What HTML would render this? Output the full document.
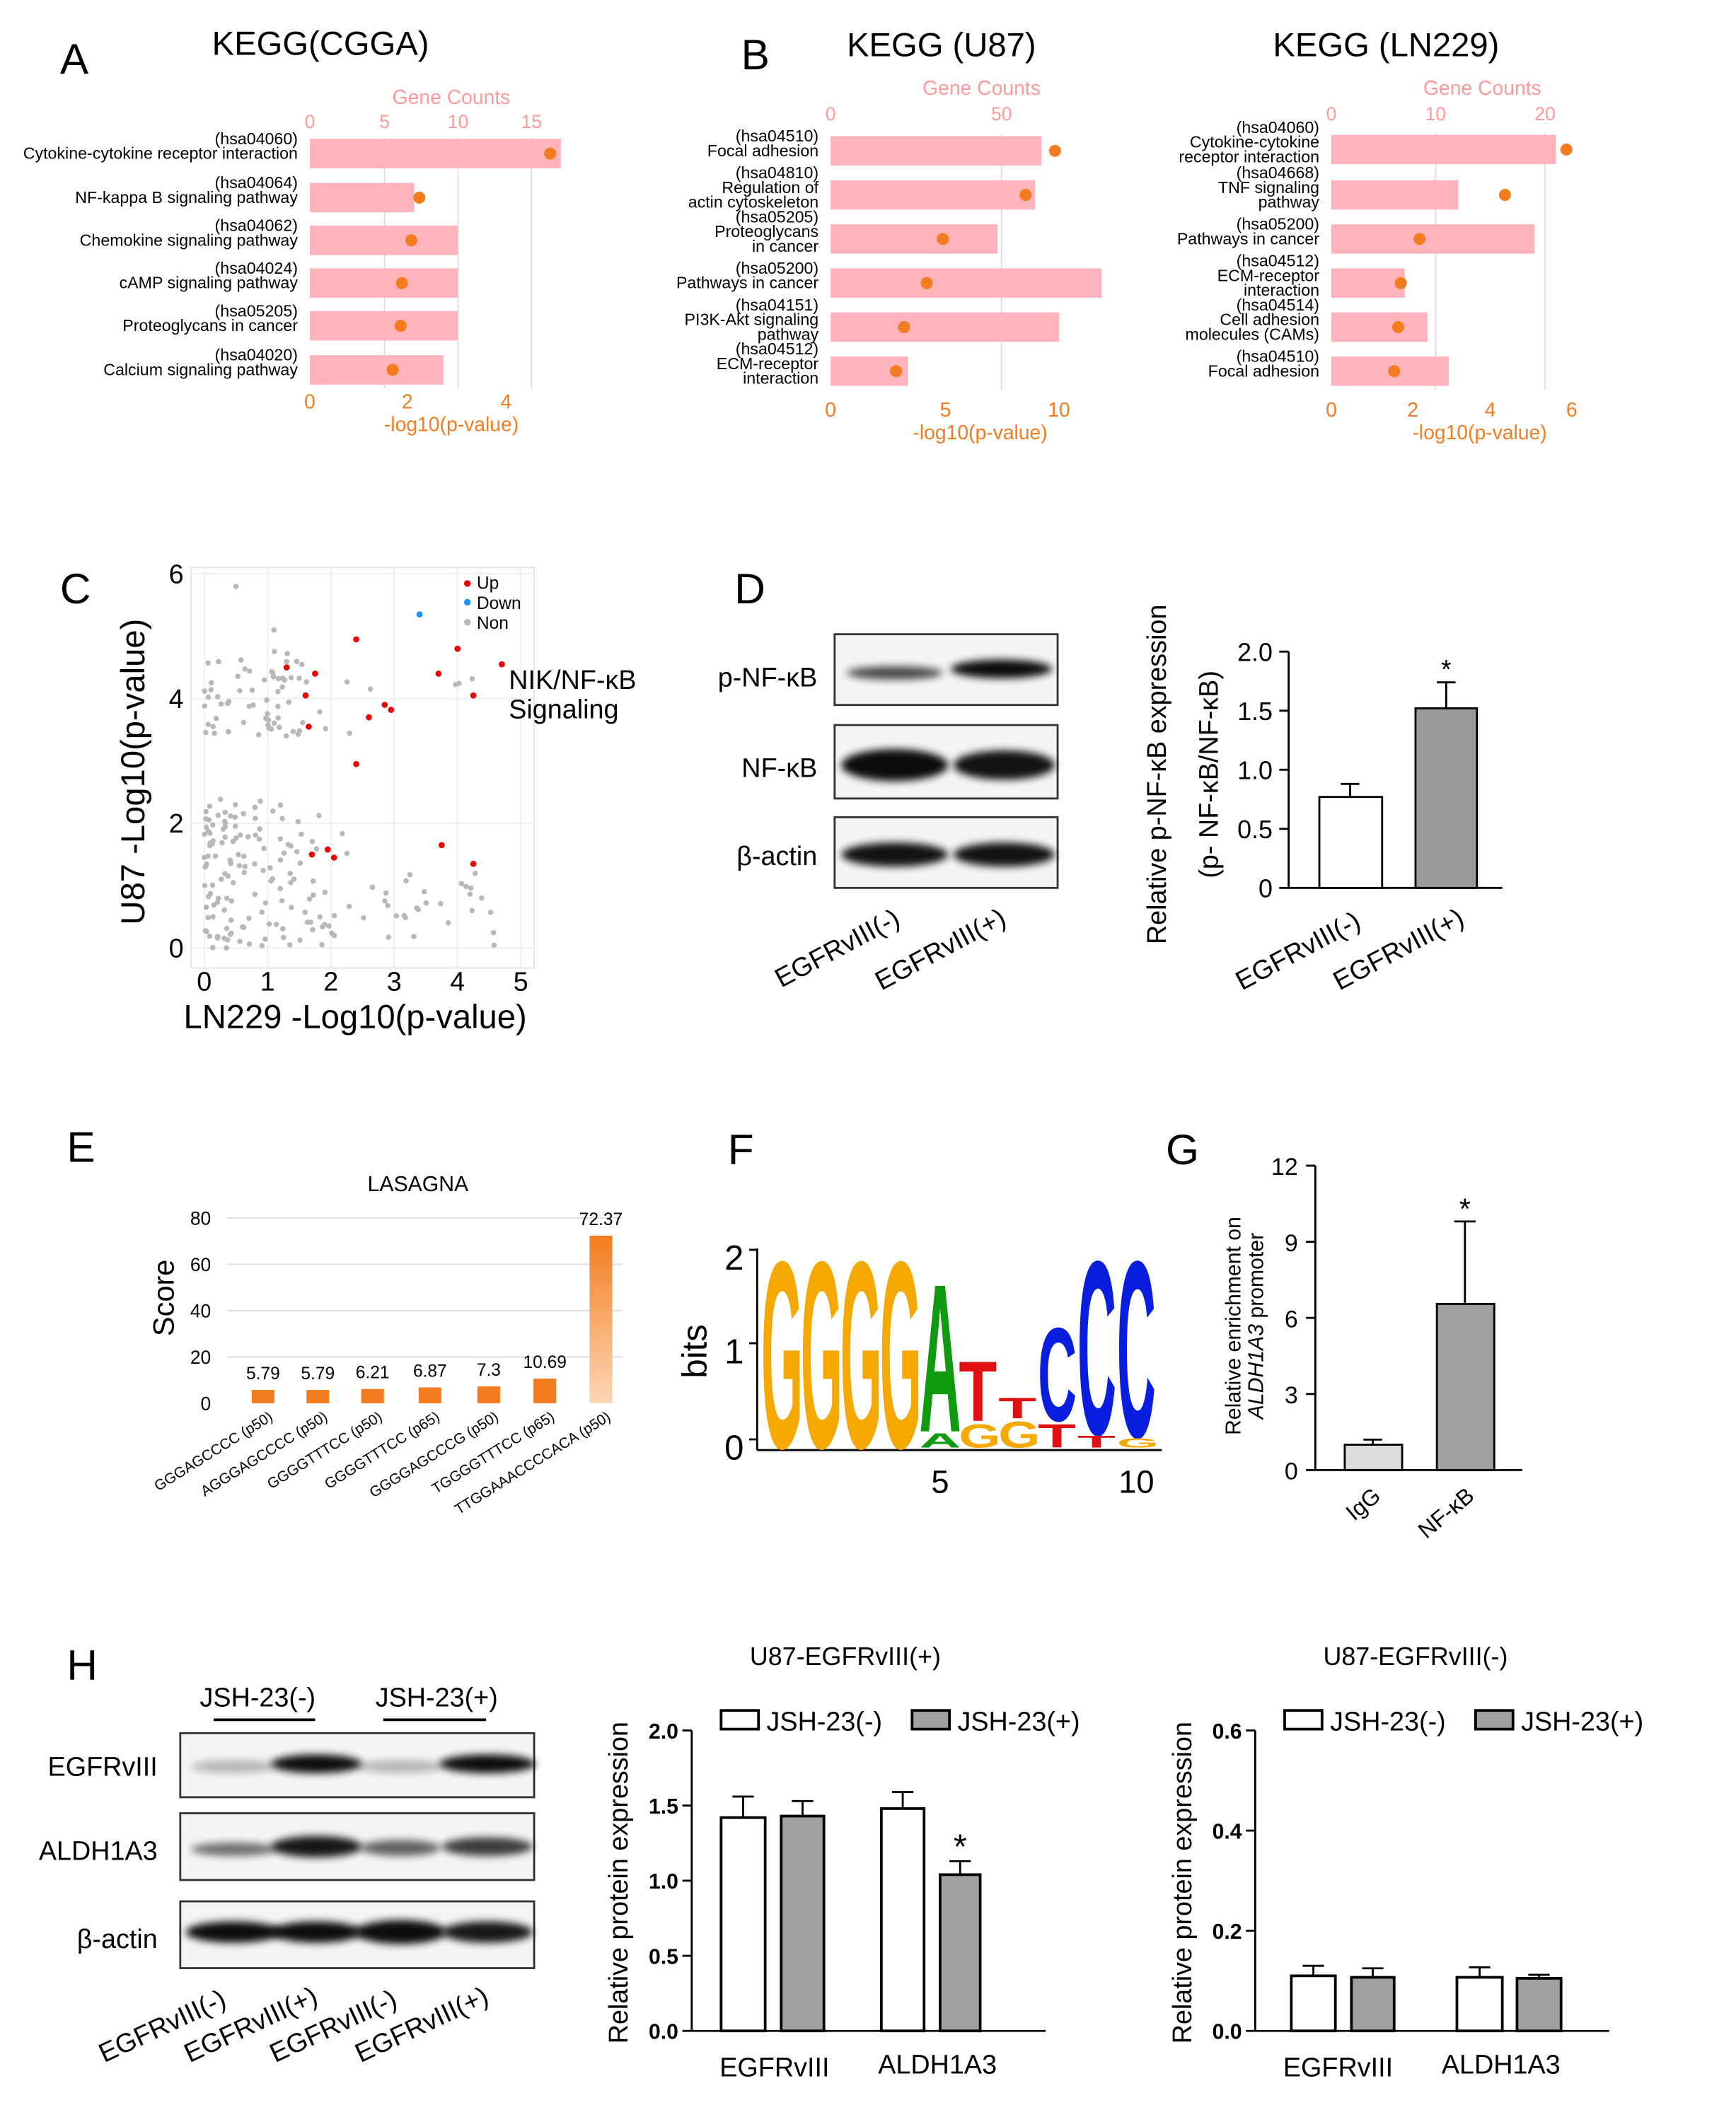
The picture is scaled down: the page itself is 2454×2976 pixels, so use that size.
<!DOCTYPE html>
<html><head><meta charset="utf-8"><style>
html,body{margin:0;padding:0;background:#fff}
svg{display:block}
text{font-family:"Liberation Sans",Arial,sans-serif}
</style></head><body>
<svg id="s" width="2454" height="2976" viewBox="0 0 1300 1576.5" preserveAspectRatio="none" xmlns="http://www.w3.org/2000/svg">
<defs>
<filter id="bl" x="-20%" y="-50%" width="140%" height="200%"><feGaussianBlur stdDeviation="3"/></filter>
<linearGradient id="og" x1="0" y1="0" x2="0" y2="1"><stop offset="0" stop-color="#f47c20"/><stop offset="1" stop-color="#fbd6b5"/></linearGradient>
</defs>
<rect width="1300" height="1576.5" fill="#fff"/>
<g id="g"></g>
</svg>
<script>
const g=document.getElementById('g');let h='';
function T(x,y,s,t,o){o=o||{};h+=`<text x="${x}" y="${y}" font-size="${s}" fill="${o.c||'#000'}" text-anchor="${o.a||'start'}" ${o.w?'font-weight="bold"':''} ${o.r!=null?`transform="rotate(${o.r} ${x} ${y})"`:''}>${t}</text>`;}
function L(x1,y1,x2,y2,c,w){h+=`<line x1="${x1}" y1="${y1}" x2="${x2}" y2="${y2}" stroke="${c||'#000'}" stroke-width="${w||1.5}"/>`;}
function R(x,y,w,hh,f,s,sw){h+=`<rect x="${x}" y="${y}" width="${w}" height="${hh}" fill="${f}" ${s?`stroke="${s}" stroke-width="${sw||1.5}"`:''}/>`;}
function C(x,y,r,f){h+=`<circle cx="${x}" cy="${y}" r="${r}" fill="${f}"/>`;}
const pink='#ffb3ba',or='#f47c20',lp='#ff9a9a';
T(45,55,32,'A');T(555,52,32,'B');T(45,452,32,'C');T(550,452,32,'D');T(50,870,32,'E');T(545,872,32,'F');T(873,872,32,'G');T(50,1258,32,'H');
function kegg(cfg){
 T(cfg.tx,cfg.ty,25,cfg.title,{a:'middle'});
 T(cfg.gcx,cfg.gcy,15,'Gene Counts',{c:lp,a:'middle'});
 cfg.top.forEach(t=>{T(t[0],cfg.topy,14,t[1],{c:lp,a:'middle'});if(t[2])L(t[0],cfg.rows[0]-12,t[0],cfg.rows[5]+14,'#ddd',1);});
 cfg.rows.forEach((y,i)=>{R(cfg.x0,y-11,cfg.ends[i]-cfg.x0,22,pink);});
 cfg.rows.forEach((y,i)=>{C(cfg.dots[i],y,4.5,or);
  const lb=cfg.labels[i];lb.forEach((s,j)=>T(cfg.x0-9,y-7+j*11-(lb.length-2)*5.5,12.3,s,{a:'end'}));});
 cfg.bot.forEach(t=>T(t[0],cfg.boty,15,t[1],{c:or,a:'middle'}));
 T(cfg.lx,cfg.ly,15,'-log10(p-value)',{c:or,a:'middle'});
}
kegg({title:'KEGG(CGGA)',tx:240,ty:41,gcx:338,gcy:78,x0:232,topy:96,
 top:[[232,'0'],[288,'5',1],[343,'10',1],[398,'15',1]],
 rows:[115,148,180,212,244,277],ends:[420,310,343,343,343,332],dots:[412,314,308,301,300,294],
 labels:[['(hsa04060)','Cytokine-cytokine receptor interaction'],['(hsa04064)','NF-kappa B signaling pathway'],['(hsa04062)','Chemokine signaling pathway'],['(hsa04024)','cAMP signaling pathway'],['(hsa05205)','Proteoglycans in cancer'],['(hsa04020)','Calcium signaling pathway']],
 bot:[[232,'0'],[305,'2'],[379,'4']],boty:306,lx:338,ly:323});
kegg({title:'KEGG (U87)',tx:705,ty:42,gcx:735,gcy:71,x0:622,topy:90,
 top:[[622,'0'],[750,'50',1]],
 rows:[113,146,179,212,245,278],ends:[780,775,747,825,793,680],dots:[790,768,706,694,677,671],
 labels:[['(hsa04510)','Focal adhesion'],['(hsa04810)','Regulation of','actin cytoskeleton'],['(hsa05205)','Proteoglycans','in cancer'],['(hsa05200)','Pathways in cancer'],['(hsa04151)','PI3K-Akt signaling','pathway'],['(hsa04512)','ECM-receptor','interaction']],
 bot:[[622,'0'],[708,'5'],[793,'10']],boty:312,lx:734,ly:329});
kegg({title:'KEGG (LN229)',tx:1038,ty:42,gcx:1110,gcy:71,x0:997,topy:90,
 top:[[997,'0'],[1075,'10',1],[1157,'20',1]],
 rows:[112,146,179,212,245,278],ends:[1165,1092,1149,1052,1069,1085],dots:[1173,1127,1063,1049,1047,1044],
 labels:[['(hsa04060)','Cytokine-cytokine','receptor interaction'],['(hsa04668)','TNF signaling','pathway'],['(hsa05200)','Pathways in cancer'],['(hsa04512)','ECM-receptor','interaction'],['(hsa04514)','Cell adhesion','molecules (CAMs)'],['(hsa04510)','Focal adhesion']],
 bot:[[997,'0'],[1058,'2'],[1116,'4'],[1177,'6']],boty:312,lx:1108,ly:329});
{const X=v=>153+v*47.4,Y=v=>710-v*46.7;
 R(143,425,257,300,'#fff','#e4e4e4',1);
 [0,1,2,3,4,5].forEach(v=>{L(X(v),425,X(v),725,'#eee',1);});
 [0,2,4,6].forEach(v=>{L(143,Y(v),400,Y(v),'#eee',1);});
 let sd=7;const rnd=()=>{sd=(sd*16807)%2147483647;return sd/2147483647;};
 for(let i=0;i<170;i++){let x=rnd()*rnd()*2.3,y=rnd()*2.4;if(rnd()<0.3)x=rnd()*4.6,y=rnd()*1.2;C(X(x),Y(y),2,'#b8b8b8');}
 for(let i=0;i<70;i++){let x=rnd()*1.6,y=3.4+rnd()*1.4;if(rnd()<0.2)x=rnd()*4.5;C(X(x),Y(y),2,'#b8b8b8');}
 C(X(0.5),Y(5.8),2,'#b8b8b8');C(X(1.1),Y(5.1),2,'#b8b8b8');
 [[1.3,4.5],[1.6,4.05],[1.75,4.4],[1.65,3.55],[2.4,4.95],[2.6,3.7],[2.85,3.9],[2.95,3.82],[2.4,2.95],[3.7,4.4],[4.0,4.8],[4.25,4.05],[4.7,4.55],[1.7,1.5],[1.95,1.58],[2.05,1.45],[3.75,1.65],[4.25,1.35]].forEach(p=>C(X(p[0]),Y(p[1]),2.3,'#e00'));
 C(X(3.4),Y(5.35),2.3,'#1e90ff');
 [0,2,4,6].forEach(v=>T(132,Y(v)+7,20,v,{a:'middle'}));
 [0,1,2,3,4,5].forEach(v=>T(X(v),742,20,v,{a:'middle'}));
 T(266,770,25,'LN229 -Log10(p-value)',{a:'middle'});
 T(108,578,25,'U87 -Log10(p-value)',{a:'middle',r:-90});
 C(350,437,2.5,'#e00');T(357,441,13,'Up');C(350,451,2.5,'#1e90ff');T(357,456,13,'Down');C(350,466,2.5,'#b8b8b8');T(357,471,13,'Non');
 T(381,516,20,'NIK/NF-κB');T(381,538,20,'Signaling');}
function blot(x,y,w,hh,bands){R(x,y,w,hh,'#f4f4f4','#333',1.5);bands.forEach(b=>h+=`<ellipse cx="${b[0]}" cy="${b[1]}" rx="${b[2]}" ry="${b[3]}" fill="#000" opacity="${b[4]}" filter="url(#bl)"/>`);}
blot(625,475,167,53,[[670,504,36,5,0.7],[750,501,38,7,0.95]]);
blot(625,543,167,55,[[670,573,40,12,0.95],[752,573,38,11,0.92]]);
blot(625,612,167,53,[[670,640,40,9,0.92],[752,640,38,9,0.92]]);
T(612,514,20,'p-NF-κB',{a:'end'});T(612,582,20,'NF-κB',{a:'end'});T(612,648,20,'β-actin',{a:'end'});
T(585,740,20,'EGFRvIII(-)',{r:-28});T(660,742,20,'EGFRvIII(+)',{r:-28});
{const Y=v=>665-v*88.5;L(965,488,965,665);[0,0.5,1,1.5,2].forEach(v=>{L(958,Y(v),965,Y(v));T(953,Y(v)+7,19,v===0?'0':v.toFixed(1),{a:'end'});});
 L(965,665,1125,665);
 R(988,Y(0.77),47,0.77*88.5,'#fff','#000',1.5);L(1011,Y(0.77),1011,Y(0.88));L(1004,Y(0.88),1018,Y(0.88));
 R(1060,Y(1.52),46,1.52*88.5,'#9a9a9a','#000',1.5);L(1083,Y(1.52),1083,Y(1.74));L(1076,Y(1.74),1090,Y(1.74));
 T(1083,508,20,'*',{a:'middle'});
 T(873,580,20,'Relative p-NF-κB expression',{a:'middle',r:-90});T(912,580,20,'(p- NF-κB/NF-κB)',{a:'middle',r:-90});
 T(930,742,20,'EGFRvIII(-)',{r:-28});T(1003,742,20,'EGFRvIII(+)',{r:-28});}
{const Y=v=>1051-v*1.735;T(313,892,16,'LASAGNA',{a:'middle'});
 [0,20,40,60,80].forEach(v=>{T(158,Y(v)+5,14,v,{a:'end'});if(v)L(170,Y(v),466,Y(v),'#ddd',1);});
 T(130,972,22,'Score',{a:'middle',r:-90});
 const vals=[5.79,5.79,6.21,6.87,7.3,10.69,72.37],xs=[197,238,279,322,366,408,450],
 labs=['GGGAGCCCC (p50)','AGGGAGCCCC (p50)','GGGGTTTCC (p50)','GGGGTTTCC (p65)','GGGGAGCCCG (p50)','TGGGGTTTCC (p65)','TTGGAAACCCCACA (p50)'];
 vals.forEach((v,i)=>{R(xs[i]-8.5,Y(v),17,v*1.735,v>50?'url(#og)':or);T(xs[i],Y(v)-8,13,v,{a:'middle'});T(xs[i]+8,1063,11,labs[i],{a:'end',r:-32});});}
{L(567,935,567,1086);L(567,1086,870,1086);
 [[2,943],[1,1013],[0,1085]].forEach(a=>{L(561,a[1]-7,567,a[1]-7);T(557,a[1]+8,26,a[0],{a:'end'});});
 T(529,1012,26,'bits',{a:'middle',r:-90});T(704,1118,24,'5',{a:'middle'});T(851,1118,24,'10',{a:'middle'});
 const colr={G:'#f5a800',A:'#109a10',T:'#e01010',C:'#0a1ee0'};
 function let_(ch,x,ytop,ybot){const hh=ybot-ytop;if(hh<=0)return;const sx=29/(ch==='T'?62:ch==='A'?67:72),sy=hh/72;
  h+=`<text x="0" y="0" font-size="100" font-weight="bold" fill="${colr[ch]}" transform="translate(${x},${ybot}) scale(${sx},${sy})">${ch}</text>`;}
 const x0=570,w=29.6;
 let_('G',x0,940,1084);let_('G',x0+w,940,1084);let_('G',x0+2*w,940,1084);let_('G',x0+3*w,940,1084);
 let_('A',x0+4*w,958,1072);let_('A',x0+4*w,1073,1084);
 let_('T',x0+5*w,1018,1064);let_('G',x0+5*w,1066,1084);
 let_('T',x0+6*w,1046,1062);let_('G',x0+6*w,1064,1084);
 let_('C',x0+7*w,992,1064);let_('T',x0+7*w,1066,1084);
 let_('C',x0+8*w,940,1074);let_('T',x0+8*w,1075,1084);
 let_('C',x0+9*w,940,1076);let_('G',x0+9*w,1077,1084);}
{const Y=v=>1101-v*19;L(985,873,985,1101);L(985,1101,1140,1101);
 [0,3,6,9,12].forEach(v=>{L(978,Y(v),985,Y(v));T(972,Y(v)+7,18,v,{a:'end'});});
 R(1007,Y(1),43,19,'#ddd','#000',1.5);L(1028,Y(1),1028,Y(1.2));L(1021,Y(1.2),1035,Y(1.2));
 R(1076,Y(6.55),43,6.55*19,'#a0a0a0','#000',1.5);L(1097,Y(6.55),1097,Y(9.8));L(1089,Y(9.8),1105,Y(9.8));
 T(1097,913,22,'*',{a:'middle'});
 T(929,993,16,'Relative enrichment on',{a:'middle',r:-90});T(946,993,16,'<tspan font-style="italic">ALDH1A3</tspan> promoter',{a:'middle',r:-90});
 T(1035,1122,17,'IgG',{a:'end',r:-40});T(1105,1122,17,'NF-κB',{a:'end',r:-40});}
T(193,1278,20,'JSH-23(-)',{a:'middle'});T(327,1278,20,'JSH-23(+)',{a:'middle'});L(160,1288,236,1288,'#000',2);L(287,1288,364,1288,'#000',2);
blot(135,1298,265,48,[[175,1323,32,5,0.25],[237,1321,34,7,0.95],[300,1323,32,5,0.25],[365,1321,36,7,0.95]]);
blot(135,1358,265,50,[[175,1385,32,5,0.55],[237,1383,34,8,0.9],[300,1384,30,6,0.6],[365,1383,34,7,0.75]]);
blot(135,1424,265,50,[[175,1447,36,8,0.95],[237,1447,34,8,0.95],[300,1447,34,9,0.95],[365,1447,34,8,0.9]]);
T(118,1330,20,'EGFRvIII',{a:'end'});T(118,1393,20,'ALDH1A3',{a:'end'});T(118,1459,20,'β-actin',{a:'end'});
['EGFRvIII(-)','EGFRvIII(+)','EGFRvIII(-)','EGFRvIII(+)'].forEach((s,i)=>T(78+i*64,1545,20,s,{r:-25}));
function hbar(ax,max,ticks,fmt,title,tx,bars,star){const Y=v=>1521-v/max*225;
 T(tx,1247,19,title,{a:'middle'});L(ax,1296,ax,1521);L(ax,1521,ax+265,1521);
 ticks.forEach(v=>{L(ax-7,Y(v),ax,Y(v));T(ax-10,Y(v)+6,16,fmt(v),{a:'end',w:1});});
 bars.forEach(b=>{R(b[0],Y(b[2]),b[1]-b[0],1521-Y(b[2]),b[3],'#000',2);const cx=(b[0]+b[1])/2;L(cx,Y(b[2]),cx,Y(b[4]));L(cx-8,Y(b[4]),cx+8,Y(b[4]));});
 R(ax+22,1281,28,14,'#fff','#000',2);T(ax+56,1296,20,'JSH-23(-)');R(ax+165,1281,28,14,'#a0a0a0','#000',2);T(ax+199,1296,20,'JSH-23(+)');
 T(ax-48,1410,20,'Relative  protein expression',{a:'middle',r:-90});
 T(ax+62,1555,20,'EGFRvIII',{a:'middle'});T(ax+184,1553,20,'ALDH1A3',{a:'middle'});
 if(star)T(star[0],star[1],26,'*',{a:'middle'});}
hbar(518,2,[0,0.5,1,1.5,2],v=>v.toFixed(1),'U87-EGFRvIII(+)',633,[[540,573,1.42,'#fff',1.56],[585,617,1.43,'#a0a0a0',1.53],[660,692,1.48,'#fff',1.59],[704,734,1.04,'#a0a0a0',1.13]],[719,1392]);
hbar(940,0.6,[0,0.2,0.4,0.6],v=>v.toFixed(1),'U87-EGFRvIII(-)',1060,[[967,1000,0.11,'#fff',0.13],[1012,1044,0.107,'#a0a0a0',0.125],[1091,1125,0.107,'#fff',0.127],[1136,1169,0.105,'#a0a0a0',0.112]],null);
g.innerHTML=h;
</script>
</body></html>
